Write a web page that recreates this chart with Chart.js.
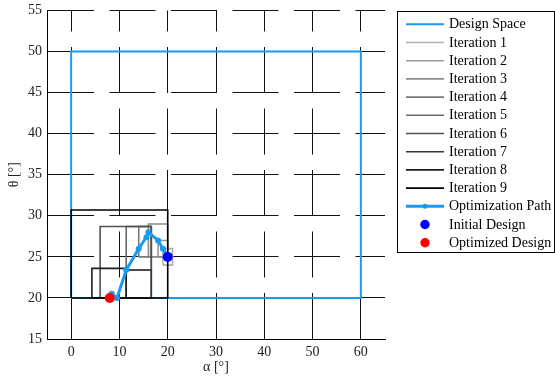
<!DOCTYPE html>
<html>
<head>
<meta charset="utf-8">
<script src="https://cdn.jsdelivr.net/npm/chart.js@4/dist/chart.umd.min.js"></script>
<style>
  body { margin: 0; background: #fff; }
  canvas { display: block; }
</style>
</head>
<body>
<canvas id="designChart" width="555" height="376"></canvas>
<script>
/***** DATA *****/
// design space bounds
var spaceAlpha = [0, 60];
var spaceTheta = [20, 50];

// axis ticks
var alphaTicks = [0, 10, 20, 30, 40, 50, 60];
var thetaTicks = [15, 20, 25, 30, 35, 40, 45, 50, 55];

// iteration boxes (alpha / theta limits per iteration)
var iterLabels = ['Iteration 1', 'Iteration 2', 'Iteration 3', 'Iteration 4', 'Iteration 5',
                  'Iteration 6', 'Iteration 7', 'Iteration 8', 'Iteration 9'];
var iterAlphaMin = [19, 18, 16, 14, 11.4, 6, 11.4, 4.3, 0];
var iterAlphaMax = [21, 20, 20, 16.6, 16.6, 16.6, 16.6, 11.4, 20];
var iterThetaMin = [24, 25, 25, 25, 23.4, 20, 20, 20, 20];
var iterThetaMax = [26, 27, 29, 28.7, 28.7, 28.7, 23.4, 23.6, 30.7];
var iterGrey = [176, 153, 140, 120, 105, 80, 55, 30, 0];

// optimisation path
var pathAlpha = [20, 19, 18, 16, 15.6, 14, 11.4, 9.5, 8.4, 8];
var pathTheta = [25, 26, 27, 28, 27.4, 26, 23.4, 20, 20.5, 20];

var initialDesign = [20, 25];
var optimizedDesign = [8, 20];

var FONT = '"Liberation Serif", "Times New Roman", serif';
var BLUE_LINE = '#1a9bef';

/***** HELPERS *****/
function boxPoints(x0, x1, y0, y1) {
    return [{x: x0, y: y0}, {x: x1, y: y0}, {x: x1, y: y1}, {x: x0, y: y1}, {x: x0, y: y0}];
}

function fixedTicks(values) {
    return function (scale) {
        scale.ticks = values.map(function (v) { return {value: v}; });
    };
}

var datasets = [];

datasets.push({
    label: 'Design Space',
    data: boxPoints(spaceAlpha[0], spaceAlpha[1], spaceTheta[0], spaceTheta[1]),
    showLine: true,
    borderColor: BLUE_LINE,
    borderWidth: 2,
    pointRadius: 0,
    order: 20
});

iterLabels.forEach(function (label, i) {
    var g = iterGrey[i];
    datasets.push({
        label: label,
        data: boxPoints(iterAlphaMin[i], iterAlphaMax[i], iterThetaMin[i], iterThetaMax[i]),
        showLine: true,
        borderColor: 'rgb(' + g + ',' + g + ',' + g + ')',
        borderWidth: 1.6,
        pointRadius: 0,
        order: 12 - i
    });
});

datasets.push({
    label: 'Optimization Path',
    data: pathAlpha.map(function (a, i) { return {x: a, y: pathTheta[i]}; }),
    showLine: true,
    borderColor: BLUE_LINE,
    backgroundColor: BLUE_LINE,
    borderWidth: 3,
    pointRadius: 3,
    pointBorderWidth: 0,
    order: 2
});

datasets.push({
    label: 'Initial Design',
    data: [{x: initialDesign[0], y: initialDesign[1]}],
    backgroundColor: '#0000ff',
    borderWidth: 0,
    pointRadius: 5,
    order: 1
});

datasets.push({
    label: 'Optimized Design',
    data: [{x: optimizedDesign[0], y: optimizedDesign[1]}],
    backgroundColor: '#ff0000',
    borderWidth: 0,
    pointRadius: 5,
    order: 0
});

/***** LEGEND (boxed, drawn beside the axes) *****/
var boxedLegend = {
    id: 'boxedLegend',
    afterDraw: function (chart) {
        var ctx = chart.ctx;
        var left = 397.5, top = 11.5, right = 554.5, bottom = 252.5;
        ctx.save();
        ctx.fillStyle = '#fff';
        ctx.fillRect(left, top, right - left, bottom - top);
        ctx.strokeStyle = '#000';
        ctx.lineWidth = 1;
        ctx.strokeRect(left, top, right - left, bottom - top);

        ctx.font = '14px ' + FONT;
        ctx.textBaseline = 'middle';
        ctx.textAlign = 'left';
        chart.data.datasets.forEach(function (ds, i) {
            var y = 24.3 + i * 18.2;
            var x0 = 406, x1 = 444;
            if (ds.showLine) {
                ctx.strokeStyle = ds.borderColor;
                ctx.lineWidth = ds.borderWidth;
                ctx.beginPath();
                ctx.moveTo(x0, y);
                ctx.lineTo(x1, y);
                ctx.stroke();
            }
            if (ds.pointRadius > 0) {
                ctx.fillStyle = ds.backgroundColor;
                ctx.beginPath();
                ctx.arc((x0 + x1) / 2, y, ds.showLine ? 2.5 : 4.7, 0, Math.PI * 2);
                ctx.fill();
            }
            ctx.fillStyle = '#000';
            ctx.fillText(ds.label, 449, y + 0.5);
        });
        ctx.restore();
    }
};

/***** CHART *****/
var tickFont = {family: FONT, size: 14};

var ctx = document.getElementById('designChart').getContext('2d');
var designChart = new Chart(ctx, {
    type: 'scatter',
    data: {datasets: datasets},
    options: {
        responsive: false,
        animation: false,
        devicePixelRatio: 1,
        layout: {padding: {top: 10.5, right: 170, left: 0, bottom: 0}},
        plugins: {legend: {display: false}, tooltip: {enabled: false}},
        elements: {line: {tension: 0, fill: false}},
        scales: {
            x: {
                type: 'linear',
                min: -5,
                max: 65,
                afterBuildTicks: fixedTicks(alphaTicks),
                afterFit: function (scale) {
                    scale.height = 37;
                    scale.paddingLeft = 0;
                    scale.paddingRight = 0;
                },
                ticks: {padding: 5, color: '#222', font: tickFont},
                grid: {color: '#111', lineWidth: 1, drawTicks: false},
                border: {
                    display: true, color: '#000', width: 1,
                    dash: [46, 15.5],
                    // dashes run up from the bottom axis
                    dashOffset: function (c) {
                        var a = c.chart.chartArea;
                        if (!a) return 0;
                        return ((46 - (a.bottom - a.top)) % 61.5 + 61.5) % 61.5;
                    }
                },
                title: {display: true, text: 'α [°]', color: '#222', font: tickFont, padding: {top: 0, bottom: 0}}
            },
            y: {
                type: 'linear',
                min: 15,
                max: 55,
                afterBuildTicks: fixedTicks(thetaTicks),
                afterFit: function (scale) {
                    scale.width = 47;
                    scale.paddingTop = 0;
                    scale.paddingBottom = 0;
                },
                ticks: {padding: 5, color: '#222', font: tickFont},
                grid: {color: '#111', lineWidth: 1, drawTicks: false},
                border: {display: true, color: '#000', width: 1, dash: [46, 15.5], dashOffset: 0},
                title: {display: true, text: 'θ [°]', color: '#222', font: tickFont, padding: {top: 6, bottom: 0}}
            }
        }
    },
    plugins: [boxedLegend]
});
</script>
</body>
</html>
